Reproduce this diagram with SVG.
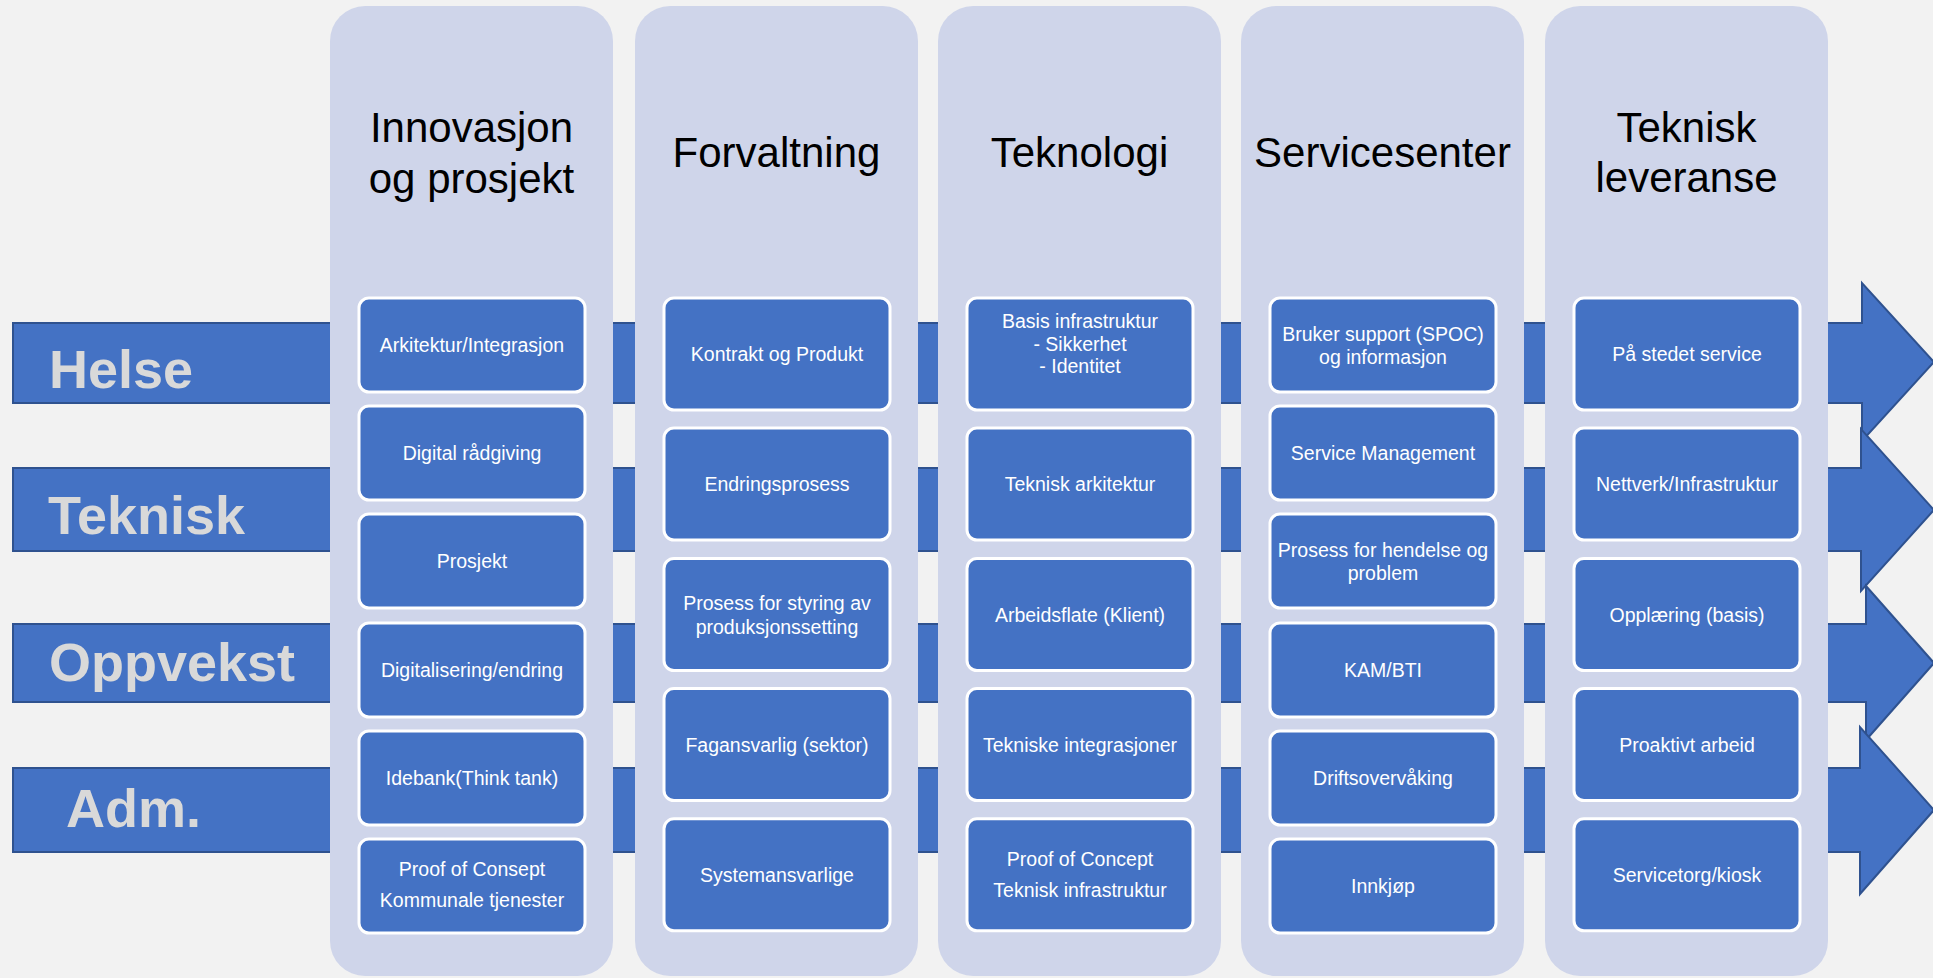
<svg xmlns="http://www.w3.org/2000/svg" width="1933" height="978" viewBox="0 0 1933 978">
<style>
.col{fill:#CFD5EA}
.bar{fill:#4472C4;stroke:#2F528F;stroke-width:2}
.box{fill:#4472C4;stroke:#FFFFFF;stroke-width:3}
.hdr{font-family:"Liberation Sans",Arial,sans-serif;font-size:42px;fill:#000000;text-anchor:middle}
.row{font-family:"Liberation Sans",Arial,sans-serif;font-size:54px;font-weight:bold;fill:#D9D9D9}
.txt{font-family:"Liberation Sans",Arial,sans-serif;font-size:19.5px;fill:#FFFFFF;text-anchor:middle}
</style>
<rect x="0" y="0" width="1933" height="978" fill="#F2F2F2"/>
<g id="connectors">
<path class="bar" d="M13,323 H1862 V283 L1934,362 L1862,441 V403 H13 Z"/>
<path class="bar" d="M13,468 H1861 V429 L1934,510 L1861,591 V551 H13 Z"/>
<path class="bar" d="M13,624 H1866 V586 L1934,663 L1866,740 V702 H13 Z"/>
<path class="bar" d="M13,768 H1860 V727 L1934,810 L1860,894 V852 H13 Z"/>
</g>
<g id="row-helse"><text class="row" x="49" y="388">Helse</text></g>
<g id="row-teknisk"><text class="row" x="48" y="534">Teknisk</text></g>
<g id="row-oppvekst"><text class="row" x="49" y="681">Oppvekst</text></g>
<g id="row-adm"><text class="row" x="66" y="827">Adm.</text></g>

<g id="col-innovasjon">
<rect class="col" x="330" y="6" width="283" height="970" rx="35"/>
<text class="hdr" x="471.5" y="142">Innovasjon</text>
<text class="hdr" x="471.5" y="193">og prosjekt</text>
</g>
<g id="col-forvaltning">
<rect class="col" x="635" y="6" width="283" height="970" rx="35"/>
<text class="hdr" x="776.5" y="167">Forvaltning</text>
</g>
<g id="col-teknologi">
<rect class="col" x="938" y="6" width="283" height="970" rx="35"/>
<text class="hdr" x="1079.5" y="167">Teknologi</text>
</g>
<g id="col-servicesenter">
<rect class="col" x="1241" y="6" width="283" height="970" rx="35"/>
<text class="hdr" x="1382.5" y="167">Servicesenter</text>
</g>
<g id="col-leveranse">
<rect class="col" x="1545" y="6" width="283" height="970" rx="35"/>
<text class="hdr" x="1686.5" y="142">Teknisk</text>
<text class="hdr" x="1686.5" y="192">leveranse</text>
</g>

<!-- Column 1 -->
<g id="n-arkitektur"><rect class="box" x="359" y="298" width="226" height="94" rx="10"/><text class="txt" x="472" y="352">Arkitektur/Integrasjon</text></g>
<g id="n-digital-radgiving"><rect class="box" x="359" y="406" width="226" height="94" rx="10"/><text class="txt" x="472" y="460">Digital rådgiving</text></g>
<g id="n-prosjekt"><rect class="box" x="359" y="514" width="226" height="94" rx="10"/><text class="txt" x="472" y="568">Prosjekt</text></g>
<g id="n-digitalisering"><rect class="box" x="359" y="623" width="226" height="94" rx="10"/><text class="txt" x="472" y="677">Digitalisering/endring</text></g>
<g id="n-idebank"><rect class="box" x="359" y="731" width="226" height="94" rx="10"/><text class="txt" x="472" y="785">Idebank(Think tank)</text></g>
<g id="n-poc-kommunale"><rect class="box" x="359" y="839" width="226" height="94" rx="10"/><text class="txt" x="472" y="876">Proof of Consept</text><text class="txt" x="472" y="907">Kommunale tjenester</text></g>

<!-- Column 2 -->
<g id="n-kontrakt"><rect class="box" x="664" y="298" width="226" height="112" rx="10"/><text class="txt" x="777" y="361">Kontrakt og Produkt</text></g>
<g id="n-endringsprosess"><rect class="box" x="664" y="428" width="226" height="112" rx="10"/><text class="txt" x="777" y="491">Endringsprosess</text></g>
<g id="n-prosess-styring"><rect class="box" x="664" y="558.5" width="226" height="112" rx="10"/><text class="txt" x="777" y="610">Prosess for styring av</text><text class="txt" x="777" y="634">produksjonssetting</text></g>
<g id="n-fagansvarlig"><rect class="box" x="664" y="688.6" width="226" height="112" rx="10"/><text class="txt" x="777" y="751.5">Fagansvarlig (sektor)</text></g>
<g id="n-systemansvarlige"><rect class="box" x="664" y="818.8" width="226" height="112" rx="10"/><text class="txt" x="777" y="882">Systemansvarlige</text></g>

<!-- Column 3 -->
<g id="n-basis"><rect class="box" x="967" y="298" width="226" height="112" rx="10"/><text class="txt" x="1080" y="328">Basis infrastruktur</text><text class="txt" x="1080" y="350.5">- Sikkerhet</text><text class="txt" x="1080" y="373">- Identitet</text></g>
<g id="n-teknisk-arkitektur"><rect class="box" x="967" y="428" width="226" height="112" rx="10"/><text class="txt" x="1080" y="491">Teknisk arkitektur</text></g>
<g id="n-arbeidsflate"><rect class="box" x="967" y="558.5" width="226" height="112" rx="10"/><text class="txt" x="1080" y="621.5">Arbeidsflate (Klient)</text></g>
<g id="n-tekniske-integrasjoner"><rect class="box" x="967" y="688.6" width="226" height="112" rx="10"/><text class="txt" x="1080" y="751.5">Tekniske integrasjoner</text></g>
<g id="n-poc-teknisk"><rect class="box" x="967" y="818.8" width="226" height="112" rx="10"/><text class="txt" x="1080" y="866">Proof of Concept</text><text class="txt" x="1080" y="897">Teknisk infrastruktur</text></g>

<!-- Column 4 -->
<g id="n-bruker-support"><rect class="box" x="1270" y="298" width="226" height="94" rx="10"/><text class="txt" x="1383" y="341">Bruker support (SPOC)</text><text class="txt" x="1383" y="364">og informasjon</text></g>
<g id="n-service-management"><rect class="box" x="1270" y="406" width="226" height="94" rx="10"/><text class="txt" x="1383" y="460">Service Management</text></g>
<g id="n-prosess-hendelse"><rect class="box" x="1270" y="514" width="226" height="94" rx="10"/><text class="txt" x="1383" y="556.5">Prosess for hendelse og</text><text class="txt" x="1383" y="580">problem</text></g>
<g id="n-kam"><rect class="box" x="1270" y="623" width="226" height="94" rx="10"/><text class="txt" x="1383" y="677">KAM/BTI</text></g>
<g id="n-driftsovervaking"><rect class="box" x="1270" y="731" width="226" height="94" rx="10"/><text class="txt" x="1383" y="785">Driftsovervåking</text></g>
<g id="n-innkjop"><rect class="box" x="1270" y="839" width="226" height="94" rx="10"/><text class="txt" x="1383" y="893">Innkjøp</text></g>

<!-- Column 5 -->
<g id="n-pa-stedet"><rect class="box" x="1574" y="298" width="226" height="112" rx="10"/><text class="txt" x="1687" y="361">På stedet service</text></g>
<g id="n-nettverk"><rect class="box" x="1574" y="428" width="226" height="112" rx="10"/><text class="txt" x="1687" y="491">Nettverk/Infrastruktur</text></g>
<g id="n-opplaering"><rect class="box" x="1574" y="558.5" width="226" height="112" rx="10"/><text class="txt" x="1687" y="621.5">Opplæring (basis)</text></g>
<g id="n-proaktivt"><rect class="box" x="1574" y="688.6" width="226" height="112" rx="10"/><text class="txt" x="1687" y="751.5">Proaktivt arbeid</text></g>
<g id="n-servicetorg"><rect class="box" x="1574" y="818.8" width="226" height="112" rx="10"/><text class="txt" x="1687" y="882">Servicetorg/kiosk</text></g>
</svg>
